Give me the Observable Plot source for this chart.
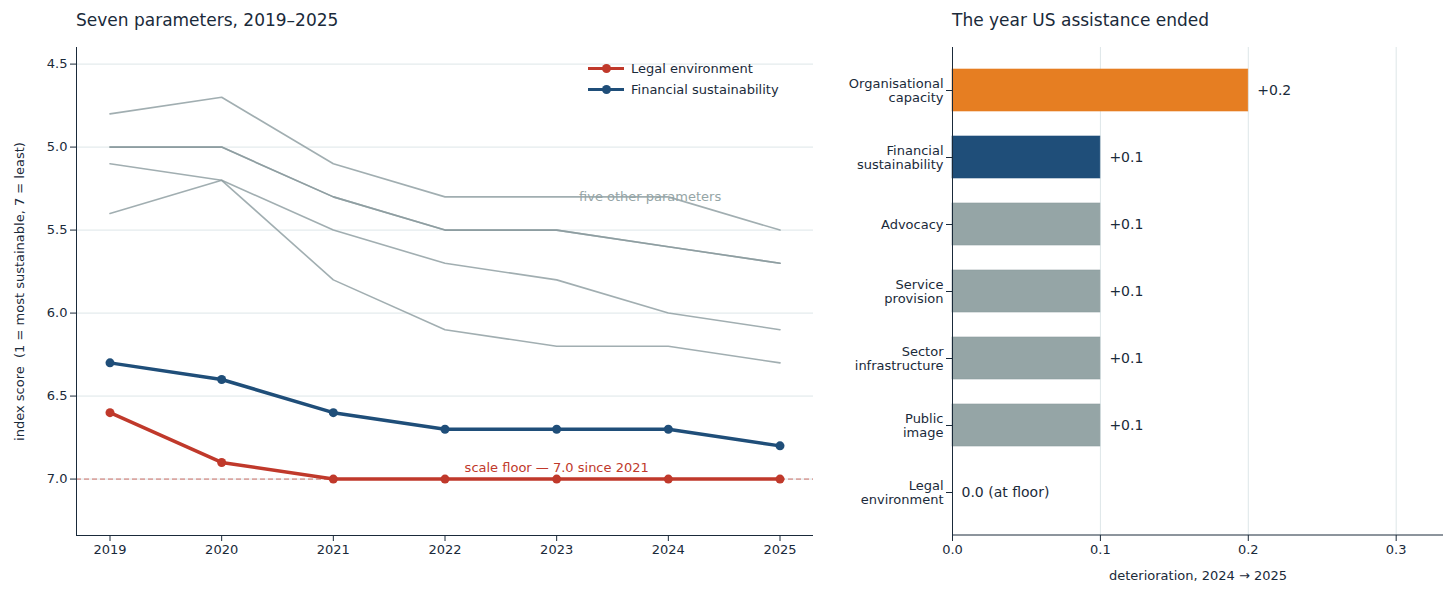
<!DOCTYPE html>
<html><head><meta charset="utf-8">
<script src="https://cdn.jsdelivr.net/npm/d3@7"></script>
<script src="https://cdn.jsdelivr.net/npm/@observablehq/plot@0.6"></script>
<style>
body{margin:0;background:#fff;font-family:"DejaVu Sans",sans-serif;color:#1a2a3a}
#wrap{position:relative;width:1456px;height:602px}
.t{position:absolute;top:10px;font-size:17px;color:#1a2a3a}
#l{position:absolute;left:0;top:40px}
#r{position:absolute;left:830px;top:40px}
#leg{position:absolute;left:588px;top:58px;font-size:13px;line-height:21px}
#leg div{display:flex;align-items:center}
.sw{width:36px;height:3px;position:relative;margin-right:7px}
.sw i{position:absolute;left:14px;top:-3px;width:9px;height:9px;border-radius:50%}
</style></head><body>
<div id="wrap">
<div class="t" style="left:76px">Seven parameters, 2019–2025</div>
<div class="t" style="left:952px">The year US assistance ended</div>
<div id="l"></div><div id="r"></div>
<div id="leg">
<div><span class="sw" style="background:#c0392b"><i style="background:#c0392b"></i></span>Legal environment</div>
<div><span class="sw" style="background:#1f4e79"><i style="background:#1f4e79"></i></span>Financial sustainability</div>
</div>
</div>
<script>
const years=[2019,2020,2021,2022,2023,2024,2025];
const legal=[6.6,6.9,7.0,7.0,7.0,7.0,7.0];
const financial=[6.3,6.4,6.6,6.7,6.7,6.7,6.8];
const other1=[4.8,4.7,5.1,5.3,5.3,5.3,5.5];
const other2=[5.0,5.0,5.3,5.5,5.5,5.6,5.7];
const other3=[5.0,5.0,5.3,5.5,5.5,5.6,5.7];
const other4=[5.1,5.2,5.5,5.7,5.8,6.0,6.1];
const other5=[5.4,5.2,5.8,6.1,6.2,6.2,6.3];
const cats=["Organisational\ncapacity","Financial\nsustainability","Advocacy","Service\nprovision","Sector\ninfrastructure","Public\nimage","Legal\nenvironment"];
const deltas=[0.2,0.1,0.1,0.1,0.1,0.1,0.0];
const barLabels=["+0.2","+0.1","+0.1","+0.1","+0.1","+0.1","0.0 (at floor)"];
const barColors=["#e67e22","#1f4e79","#95a5a6","#95a5a6","#95a5a6","#95a5a6","#95a5a6"];

const others=[other1,other2,other3,other4,other5].flatMap((s,k)=>s.map((v,i)=>({k,year:years[i],v})));
const L=legal.map((v,i)=>({year:years[i],v}));
const F=financial.map((v,i)=>({year:years[i],v}));
const font="DejaVu Sans";
const left=Plot.plot({
  width:830,height:562,marginLeft:76,marginRight:17,marginTop:7,marginBottom:67,
  style:{fontFamily:font,fontSize:"13px",color:"#1a2a3a"},
  x:{domain:[2018.7,2025.3],ticks:years,tickFormat:d=>String(d),label:null},
  y:{domain:[4.4,7.34],reverse:true,ticks:[4.5,5,5.5,6,6.5,7],tickFormat:d3.format(".1f"),label:"index score  (1 = most sustainable, 7 = least)",labelAnchor:"center",labelOffset:62,labelArrow:false},
  marks:[
    Plot.gridY([4.5,5,5.5,6,6.5,7],{stroke:"#dde6e8",strokeOpacity:1}),
    Plot.ruleY([7],{stroke:"#c0392b",strokeDasharray:"5,3",strokeOpacity:0.7}),
    Plot.lineY(others,{x:"year",y:"v",z:"k",stroke:"#8a9a9d",strokeOpacity:0.8,strokeWidth:1.6}),
    Plot.text(["five other parameters"],{x:2023.2,y:5.3,textAnchor:"start",fill:"#95a5a6",fontSize:13}),
    Plot.text(["scale floor — 7.0 since 2021"],{x:2023,y:6.93,fill:"#c0392b",fontSize:13}),
    Plot.lineY(F,{x:"year",y:"v",stroke:"#1f4e79",strokeWidth:3.5}),
    Plot.dot(F,{x:"year",y:"v",fill:"#1f4e79",r:4.5}),
    Plot.lineY(L,{x:"year",y:"v",stroke:"#c0392b",strokeWidth:3.5}),
    Plot.dot(L,{x:"year",y:"v",fill:"#c0392b",r:4.5}),
    Plot.axisX({ticks:years,tickFormat:d=>String(d),tickSize:6,label:null}),
    Plot.axisY({ticks:[4.5,5,5.5,6,6.5,7],tickFormat:d3.format(".1f"),tickSize:6,label:"index score  (1 = most sustainable, 7 = least)",labelAnchor:"center",labelOffset:62,labelArrow:false}),
    Plot.ruleX([2018.7],{stroke:"#1a2a3a"}),
    Plot.ruleY([7.34],{stroke:"#1a2a3a"})
  ]
});
document.getElementById("l").append(left);

const bars=cats.map((c,i)=>({c,d:deltas[i],lab:barLabels[i],col:barColors[i]}));
const right=Plot.plot({
  width:626,height:562,marginLeft:122,marginRight:13,marginTop:7,marginBottom:67,
  style:{fontFamily:font,fontSize:"13px",color:"#1a2a3a"},
  x:{domain:[0,0.332],ticks:[0,0.1,0.2,0.3],tickFormat:d3.format(".1f"),label:"deterioration, 2024 → 2025",labelAnchor:"center",labelArrow:false,labelOffset:44},
  y:{domain:cats,paddingInner:0.38,paddingOuter:0.33,label:null},
  marks:[
    Plot.gridX([0.1,0.2,0.3],{stroke:"#dde6e8",strokeOpacity:1}),
    Plot.barX(bars,{y:"c",x:"d",fill:"col",stroke:d=>d.col==="#95a5a6"?"#8a9a9d":d.col,strokeWidth:0.6}),
    Plot.text(bars,{y:"c",x:"d",text:"lab",textAnchor:"start",dx:9,fontSize:14,fill:"#1a2a3a"}),
    Plot.axisY({tickSize:6,fontSize:13,label:null,lineHeight:1.1}),
    Plot.axisX({ticks:[0,0.1,0.2,0.3],tickFormat:d3.format(".1f"),tickSize:6,label:"deterioration, 2024 → 2025",labelAnchor:"center",labelArrow:false,labelOffset:44}),
    Plot.ruleX([0],{stroke:"#1a2a3a"}),
    Plot.ruleY([0],{y:()=>null}),
  ]
});
document.getElementById("r").append(right);
// bottom frame line of right panel
const rs=d3.select(right);
rs.append("line").attr("x1",122).attr("x2",613).attr("y1",495).attr("y2",495).attr("stroke","#1a2a3a");
</script>
</body></html>
